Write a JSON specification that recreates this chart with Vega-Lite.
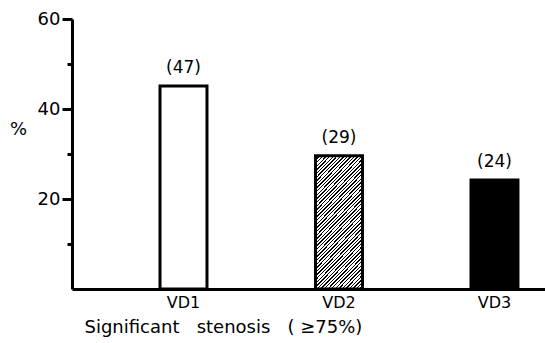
{
  "$schema": "https://vega.github.io/schema/vega-lite/v6.json",
  "width": 473,
  "height": 270,
  "autosize": {"type": "none"},
  "padding": {"left": 72, "top": 19, "right": 0, "bottom": 54},
  "background": "white",
  "config": {"view": {"stroke": null}, "font": "DejaVu Sans"},
  "data": {"values": [
    {"g": "VD1", "v": 45.1, "lab": "(47)"},
    {"g": "VD2", "v": 29.6, "lab": "(29)"},
    {"g": "VD3", "v": 24.2, "lab": "(24)"}
  ]},
  "encoding": {
    "x": {"field": "g", "type": "nominal", "sort": null,
      "scale": {"paddingInner": 0.698, "paddingOuter": 0.37, "align": 0.765},
      "axis": {"title": "Significant\u00a0\u00a0\u00a0stenosis\u00a0\u00a0\u00a0(\u00a0\u226575%)", "labelAngle": 0, "ticks": false,
        "domainColor": "#000", "domainWidth": 3, "labelFontSize": 16, "labelColor": "#000",
        "labelFont": "DejaVu Sans", "labelPadding": 5, "labelBaseline": "top",
        "titleFont": "DejaVu Sans", "titleFontSize": 18, "titleFontWeight": "normal", "titleColor": "#000",
        "titleAnchor": "start", "titleAlign": "left", "titleX": 12, "titleY": 38, "titleBaseline": "middle"}},
    "y": {"field": "v", "type": "quantitative",
      "scale": {"domain": [0, 60], "nice": false},
      "axis": {"title": "%", "titleAngle": 0, "titleX": -54, "titleY": 110, "titleAlign": "center",
        "titleBaseline": "middle", "titleFontSize": 18, "titleFontWeight": "normal", "titleColor": "#000",
        "titleFont": "DejaVu Sans",
        "values": [10, 20, 30, 40, 50, 60], "grid": false,
        "labelExpr": "datum.value % 20 === 0 ? datum.label : ''",
        "tickSize": {"condition": {"test": "datum.value % 20 === 0", "value": 10}, "value": 5},
        "tickWidth": 3, "tickColor": "#000",
        "domainColor": "#000", "domainWidth": 3, "labelFontSize": 18, "labelColor": "#000",
        "labelFont": "DejaVu Sans", "labelPadding": 2}}
  },
  "layer": [
    {"mark": {"type": "bar", "stroke": "#000", "strokeWidth": 3},
     "encoding": {"fill": {"condition": [
        {"test": "datum.g === 'VD1'", "value": "#fff"},
        {"test": "datum.g === 'VD2'", "value": {"gradient": "linear", "x1": 0, "y1": 0, "x2": 0.435, "y2": 1.204, "stops": [
{"offset":0,"color":"#000"},{"offset":0.008,"color":"#000"},{"offset":0.008,"color":"#fff"},{"offset":0.02,"color":"#fff"},
{"offset":0.02,"color":"#000"},{"offset":0.028,"color":"#000"},{"offset":0.028,"color":"#fff"},{"offset":0.04,"color":"#fff"},
{"offset":0.04,"color":"#000"},{"offset":0.048,"color":"#000"},{"offset":0.048,"color":"#fff"},{"offset":0.06,"color":"#fff"},
{"offset":0.06,"color":"#000"},{"offset":0.068,"color":"#000"},{"offset":0.068,"color":"#fff"},{"offset":0.08,"color":"#fff"},
{"offset":0.08,"color":"#000"},{"offset":0.088,"color":"#000"},{"offset":0.088,"color":"#fff"},{"offset":0.1,"color":"#fff"},
{"offset":0.1,"color":"#000"},{"offset":0.108,"color":"#000"},{"offset":0.108,"color":"#fff"},{"offset":0.12,"color":"#fff"},
{"offset":0.12,"color":"#000"},{"offset":0.128,"color":"#000"},{"offset":0.128,"color":"#fff"},{"offset":0.14,"color":"#fff"},
{"offset":0.14,"color":"#000"},{"offset":0.148,"color":"#000"},{"offset":0.148,"color":"#fff"},{"offset":0.16,"color":"#fff"},
{"offset":0.16,"color":"#000"},{"offset":0.168,"color":"#000"},{"offset":0.168,"color":"#fff"},{"offset":0.18,"color":"#fff"},
{"offset":0.18,"color":"#000"},{"offset":0.188,"color":"#000"},{"offset":0.188,"color":"#fff"},{"offset":0.2,"color":"#fff"},
{"offset":0.2,"color":"#000"},{"offset":0.208,"color":"#000"},{"offset":0.208,"color":"#fff"},{"offset":0.22,"color":"#fff"},
{"offset":0.22,"color":"#000"},{"offset":0.228,"color":"#000"},{"offset":0.228,"color":"#fff"},{"offset":0.24,"color":"#fff"},
{"offset":0.24,"color":"#000"},{"offset":0.248,"color":"#000"},{"offset":0.248,"color":"#fff"},{"offset":0.26,"color":"#fff"},
{"offset":0.26,"color":"#000"},{"offset":0.268,"color":"#000"},{"offset":0.268,"color":"#fff"},{"offset":0.28,"color":"#fff"},
{"offset":0.28,"color":"#000"},{"offset":0.288,"color":"#000"},{"offset":0.288,"color":"#fff"},{"offset":0.3,"color":"#fff"},
{"offset":0.3,"color":"#000"},{"offset":0.308,"color":"#000"},{"offset":0.308,"color":"#fff"},{"offset":0.32,"color":"#fff"},
{"offset":0.32,"color":"#000"},{"offset":0.328,"color":"#000"},{"offset":0.328,"color":"#fff"},{"offset":0.34,"color":"#fff"},
{"offset":0.34,"color":"#000"},{"offset":0.348,"color":"#000"},{"offset":0.348,"color":"#fff"},{"offset":0.36,"color":"#fff"},
{"offset":0.36,"color":"#000"},{"offset":0.368,"color":"#000"},{"offset":0.368,"color":"#fff"},{"offset":0.38,"color":"#fff"},
{"offset":0.38,"color":"#000"},{"offset":0.388,"color":"#000"},{"offset":0.388,"color":"#fff"},{"offset":0.4,"color":"#fff"},
{"offset":0.4,"color":"#000"},{"offset":0.408,"color":"#000"},{"offset":0.408,"color":"#fff"},{"offset":0.42,"color":"#fff"},
{"offset":0.42,"color":"#000"},{"offset":0.428,"color":"#000"},{"offset":0.428,"color":"#fff"},{"offset":0.44,"color":"#fff"},
{"offset":0.44,"color":"#000"},{"offset":0.448,"color":"#000"},{"offset":0.448,"color":"#fff"},{"offset":0.46,"color":"#fff"},
{"offset":0.46,"color":"#000"},{"offset":0.468,"color":"#000"},{"offset":0.468,"color":"#fff"},{"offset":0.48,"color":"#fff"},
{"offset":0.48,"color":"#000"},{"offset":0.488,"color":"#000"},{"offset":0.488,"color":"#fff"},{"offset":0.5,"color":"#fff"},
{"offset":0.5,"color":"#000"},{"offset":0.508,"color":"#000"},{"offset":0.508,"color":"#fff"},{"offset":0.52,"color":"#fff"},
{"offset":0.52,"color":"#000"},{"offset":0.528,"color":"#000"},{"offset":0.528,"color":"#fff"},{"offset":0.54,"color":"#fff"},
{"offset":0.54,"color":"#000"},{"offset":0.548,"color":"#000"},{"offset":0.548,"color":"#fff"},{"offset":0.56,"color":"#fff"},
{"offset":0.56,"color":"#000"},{"offset":0.568,"color":"#000"},{"offset":0.568,"color":"#fff"},{"offset":0.58,"color":"#fff"},
{"offset":0.58,"color":"#000"},{"offset":0.588,"color":"#000"},{"offset":0.588,"color":"#fff"},{"offset":0.6,"color":"#fff"},
{"offset":0.6,"color":"#000"},{"offset":0.608,"color":"#000"},{"offset":0.608,"color":"#fff"},{"offset":0.62,"color":"#fff"},
{"offset":0.62,"color":"#000"},{"offset":0.628,"color":"#000"},{"offset":0.628,"color":"#fff"},{"offset":0.64,"color":"#fff"},
{"offset":0.64,"color":"#000"},{"offset":0.648,"color":"#000"},{"offset":0.648,"color":"#fff"},{"offset":0.66,"color":"#fff"},
{"offset":0.66,"color":"#000"},{"offset":0.668,"color":"#000"},{"offset":0.668,"color":"#fff"},{"offset":0.68,"color":"#fff"},
{"offset":0.68,"color":"#000"},{"offset":0.688,"color":"#000"},{"offset":0.688,"color":"#fff"},{"offset":0.7,"color":"#fff"},
{"offset":0.7,"color":"#000"},{"offset":0.708,"color":"#000"},{"offset":0.708,"color":"#fff"},{"offset":0.72,"color":"#fff"},
{"offset":0.72,"color":"#000"},{"offset":0.728,"color":"#000"},{"offset":0.728,"color":"#fff"},{"offset":0.74,"color":"#fff"},
{"offset":0.74,"color":"#000"},{"offset":0.748,"color":"#000"},{"offset":0.748,"color":"#fff"},{"offset":0.76,"color":"#fff"},
{"offset":0.76,"color":"#000"},{"offset":0.768,"color":"#000"},{"offset":0.768,"color":"#fff"},{"offset":0.78,"color":"#fff"},
{"offset":0.78,"color":"#000"},{"offset":0.788,"color":"#000"},{"offset":0.788,"color":"#fff"},{"offset":0.8,"color":"#fff"},
{"offset":0.8,"color":"#000"},{"offset":0.808,"color":"#000"},{"offset":0.808,"color":"#fff"},{"offset":0.82,"color":"#fff"},
{"offset":0.82,"color":"#000"},{"offset":0.828,"color":"#000"},{"offset":0.828,"color":"#fff"},{"offset":0.84,"color":"#fff"},
{"offset":0.84,"color":"#000"},{"offset":0.848,"color":"#000"},{"offset":0.848,"color":"#fff"},{"offset":0.86,"color":"#fff"},
{"offset":0.86,"color":"#000"},{"offset":0.868,"color":"#000"},{"offset":0.868,"color":"#fff"},{"offset":0.88,"color":"#fff"},
{"offset":0.88,"color":"#000"},{"offset":0.888,"color":"#000"},{"offset":0.888,"color":"#fff"},{"offset":0.9,"color":"#fff"},
{"offset":0.9,"color":"#000"},{"offset":0.908,"color":"#000"},{"offset":0.908,"color":"#fff"},{"offset":0.92,"color":"#fff"},
{"offset":0.92,"color":"#000"},{"offset":0.928,"color":"#000"},{"offset":0.928,"color":"#fff"},{"offset":0.94,"color":"#fff"},
{"offset":0.94,"color":"#000"},{"offset":0.948,"color":"#000"},{"offset":0.948,"color":"#fff"},{"offset":0.96,"color":"#fff"},
{"offset":0.96,"color":"#000"},{"offset":0.968,"color":"#000"},{"offset":0.968,"color":"#fff"},{"offset":0.98,"color":"#fff"},
{"offset":0.98,"color":"#000"},{"offset":0.988,"color":"#000"},{"offset":0.988,"color":"#fff"},{"offset":1,"color":"#fff"}
        ]}}
      ], "value": "#000"}}},
    {"mark": {"type": "text", "dy": -18, "baseline": "middle", "align": "center", "fontSize": 17, "font": "DejaVu Sans", "color": "#000"},
     "encoding": {"text": {"field": "lab", "type": "nominal"}}}
  ]
}
